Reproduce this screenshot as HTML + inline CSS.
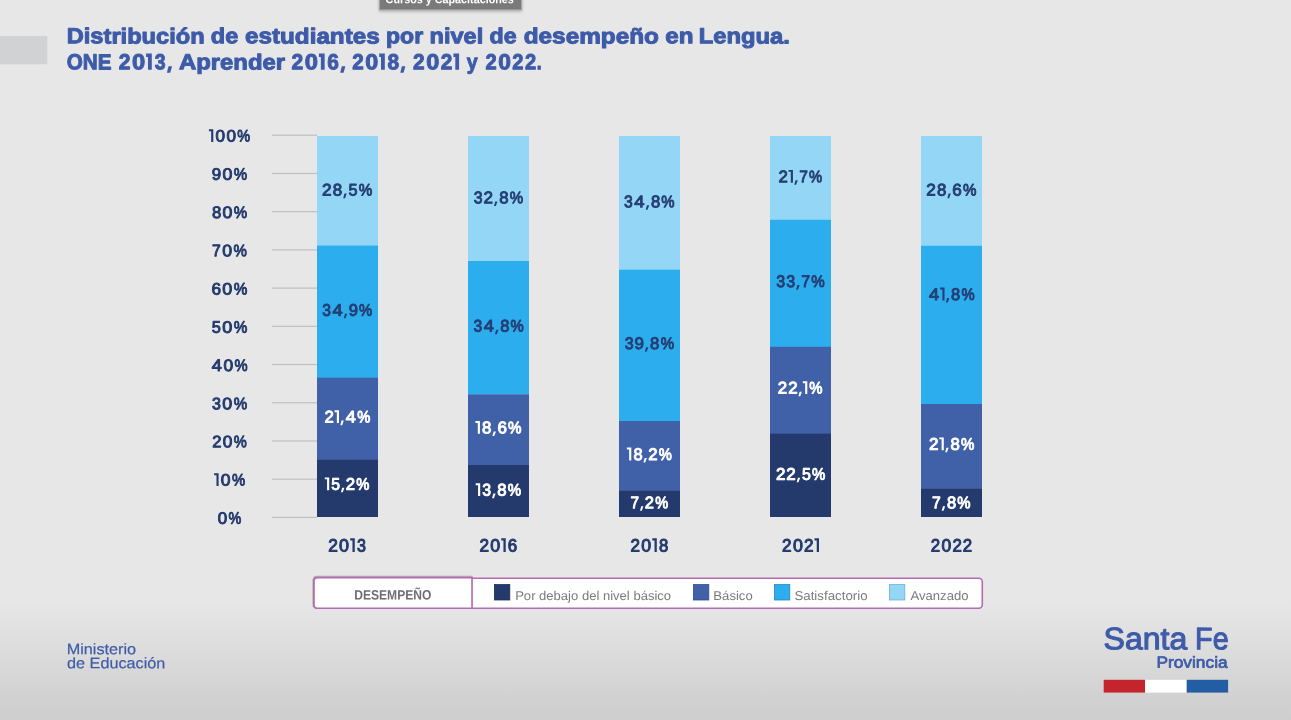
<!DOCTYPE html>
<html><head><meta charset="utf-8"><title>Distribución de estudiantes por nivel de desempeño en Lengua</title>
<style>
html,body{margin:0;padding:0;}
body{width:1291px;height:720px;overflow:hidden;position:relative;font-family:"Liberation Sans",sans-serif;
background:linear-gradient(to bottom,#e7e7e7 0,#e7e7e7 600px,#e3e3e3 620px,#d9d9d9 665px,#d2d2d2 695px,#cecece 720px);}
svg{position:absolute;left:0;top:0;display:block;will-change:transform;}
text{font-family:"Liberation Sans",sans-serif;white-space:pre;text-rendering:geometricPrecision;}
</style></head><body>
<svg width="1291" height="720" viewBox="0 0 1291 720">
<defs>
<filter id="ds" x="-5%" y="-20%" width="110%" height="140%"><feDropShadow dx="-0.4" dy="-0.6" stdDeviation="0.7" flood-color="#000" flood-opacity="0.45"/></filter>
<filter id="ts" x="-5%" y="-20%" width="110%" height="160%"><feDropShadow dx="0" dy="1" stdDeviation="1.5" flood-color="#000" flood-opacity="0.3"/></filter>
</defs>
<rect x="272" y="516.85" width="45" height="1.15" fill="#bebebe"/>
<rect x="272" y="478.63" width="45" height="1.15" fill="#bebebe"/>
<rect x="272" y="440.41" width="45" height="1.15" fill="#bebebe"/>
<rect x="272" y="402.19" width="45" height="1.15" fill="#bebebe"/>
<rect x="272" y="363.97" width="45" height="1.15" fill="#bebebe"/>
<rect x="272" y="325.75" width="45" height="1.15" fill="#bebebe"/>
<rect x="272" y="287.53" width="45" height="1.15" fill="#bebebe"/>
<rect x="272" y="249.31" width="45" height="1.15" fill="#bebebe"/>
<rect x="272" y="211.09" width="45" height="1.15" fill="#bebebe"/>
<rect x="272" y="172.87" width="45" height="1.15" fill="#bebebe"/>
<rect x="272" y="134.65" width="45" height="1.15" fill="#bebebe"/>
<rect x="317" y="136.00" width="61" height="109.80" fill="#93d6f6"/>
<rect x="317" y="245.50" width="61" height="132.50" fill="#2badee"/>
<rect x="317" y="377.70" width="61" height="82.40" fill="#4060a8"/>
<rect x="317" y="459.80" width="61" height="57.20" fill="#243a6c"/>
<rect x="468" y="136.00" width="61" height="125.30" fill="#93d6f6"/>
<rect x="468" y="261.00" width="61" height="133.70" fill="#2badee"/>
<rect x="468" y="394.40" width="61" height="70.90" fill="#4060a8"/>
<rect x="468" y="465.00" width="61" height="52.00" fill="#243a6c"/>
<rect x="619" y="136.00" width="61" height="134.00" fill="#93d6f6"/>
<rect x="619" y="269.70" width="61" height="151.60" fill="#2badee"/>
<rect x="619" y="421.00" width="61" height="70.10" fill="#4060a8"/>
<rect x="619" y="490.80" width="61" height="26.20" fill="#243a6c"/>
<rect x="770" y="136.00" width="61" height="84.10" fill="#93d6f6"/>
<rect x="770" y="219.80" width="61" height="127.30" fill="#2badee"/>
<rect x="770" y="346.80" width="61" height="87.20" fill="#4060a8"/>
<rect x="770" y="433.70" width="61" height="83.30" fill="#243a6c"/>
<rect x="921" y="136.00" width="61" height="110.10" fill="#93d6f6"/>
<rect x="921" y="245.80" width="61" height="158.50" fill="#2badee"/>
<rect x="921" y="404.00" width="61" height="84.90" fill="#4060a8"/>
<rect x="921" y="488.60" width="61" height="28.40" fill="#243a6c"/>
<rect x="314" y="578.2" width="668.3" height="30" rx="3.5" fill="#fff" stroke="#b76bb1" stroke-width="1.6"/>
<g filter="url(#ds)"><path d="M317.5 577.6 H472 V608.2 H317.5 Q314 608.2 314 604.7 V581.1 Q314 577.6 317.5 577.6 Z" fill="#fff" stroke="#b76bb1" stroke-width="1.6"/></g>
<rect x="494.4" y="584.6" width="15.4" height="15.4" fill="#243a6c" stroke="#1b2d58" stroke-width="0.8"/>
<rect x="693.4" y="584.6" width="15.4" height="15.4" fill="#4060a8" stroke="#324c8c" stroke-width="0.8"/>
<rect x="774.4" y="584.6" width="15.4" height="15.4" fill="#2badee" stroke="#2389c0" stroke-width="0.8"/>
<rect x="889.4" y="584.6" width="15.4" height="15.4" fill="#93d6f6" stroke="#78aecb" stroke-width="0.8"/>
<rect x="1103.7" y="679.8" width="41.4" height="12.8" fill="#c4242c"/>
<rect x="1145.1" y="679.8" width="41.6" height="12.8" fill="#ffffff"/>
<rect x="1186.7" y="679.8" width="41.4" height="12.8" fill="#235da3"/>
<rect x="0" y="36" width="47.3" height="28.3" fill="#d1d2d4"/>
<g filter="url(#ts)"><rect x="379.5" y="-10" width="142" height="19.9" fill="#7a7a7a" stroke="#a6a6a6" stroke-width="1"/></g>
<text transform="translate(66.72 43.35) rotate(0.05)" font-size="21.70" font-weight="bold" fill="#3d5ba9" stroke="#3d5ba9" stroke-width="1.00" stroke-linejoin="round" textLength="137.92" lengthAdjust="spacingAndGlyphs">Distribución</text>
<text transform="translate(210.87 43.35) rotate(0.05)" font-size="21.70" font-weight="bold" fill="#3d5ba9" stroke="#3d5ba9" stroke-width="1.00" stroke-linejoin="round" textLength="27.42" lengthAdjust="spacingAndGlyphs">de</text>
<text transform="translate(245.04 43.35) rotate(0.05)" font-size="21.70" font-weight="bold" fill="#3d5ba9" stroke="#3d5ba9" stroke-width="1.00" stroke-linejoin="round" textLength="134.64" lengthAdjust="spacingAndGlyphs">estudiantes</text>
<text transform="translate(386.06 43.35) rotate(0.05)" font-size="21.70" font-weight="bold" fill="#3d5ba9" stroke="#3d5ba9" stroke-width="1.00" stroke-linejoin="round" textLength="37.06" lengthAdjust="spacingAndGlyphs">por</text>
<text transform="translate(429.53 43.35) rotate(0.05)" font-size="21.70" font-weight="bold" fill="#3d5ba9" stroke="#3d5ba9" stroke-width="1.00" stroke-linejoin="round" textLength="53.66" lengthAdjust="spacingAndGlyphs">nivel</text>
<text transform="translate(489.47 43.35) rotate(0.05)" font-size="21.70" font-weight="bold" fill="#3d5ba9" stroke="#3d5ba9" stroke-width="1.00" stroke-linejoin="round" textLength="27.10" lengthAdjust="spacingAndGlyphs">de</text>
<text transform="translate(523.74 43.35) rotate(0.05)" font-size="21.70" font-weight="bold" fill="#3d5ba9" stroke="#3d5ba9" stroke-width="1.00" stroke-linejoin="round" textLength="135.16" lengthAdjust="spacingAndGlyphs">desempeño</text>
<text transform="translate(665.34 43.35) rotate(0.05)" font-size="21.70" font-weight="bold" fill="#3d5ba9" stroke="#3d5ba9" stroke-width="1.00" stroke-linejoin="round" textLength="28.22" lengthAdjust="spacingAndGlyphs">en</text>
<text transform="translate(698.81 43.35) rotate(0.05)" font-size="21.70" font-weight="bold" fill="#3d5ba9" stroke="#3d5ba9" stroke-width="1.00" stroke-linejoin="round" textLength="91.09" lengthAdjust="spacingAndGlyphs">Lengua.</text>
<text transform="translate(66.76 69.35) rotate(0.05)" font-size="21.70" font-weight="bold" fill="#3d5ba9" stroke="#3d5ba9" stroke-width="1.00" stroke-linejoin="round" textLength="44.69" lengthAdjust="spacingAndGlyphs">ONE</text>
<text transform="translate(118.63 69.35) rotate(0.05) scale(0.9673 1)" font-size="21.70" font-weight="bold" fill="#3d5ba9" stroke="#3d5ba9" stroke-width="1.00" stroke-linejoin="round">2</text><text transform="translate(131.98 69.35) rotate(0.05) scale(1.0954 1)" font-size="21.70" font-weight="bold" fill="#3d5ba9" stroke="#3d5ba9" stroke-width="1.00" stroke-linejoin="round">0</text><path d="M146.06 53.49 H151.79 V69.85 H147.99 V56.99 H146.06 Z" fill="#3d5ba9"/><text transform="translate(154.73 69.35) rotate(0.05) scale(0.8986 1)" font-size="21.70" font-weight="bold" fill="#3d5ba9" stroke="#3d5ba9" stroke-width="1.00" stroke-linejoin="round">3</text><path d="M168.49 66.26 L172.10 66.26 L170.24 72.76 L166.94 72.76 Z" fill="#3d5ba9"/>
<text transform="translate(178.93 69.35) rotate(0.05)" font-size="21.70" font-weight="bold" fill="#3d5ba9" stroke="#3d5ba9" stroke-width="1.00" stroke-linejoin="round" textLength="106.11" lengthAdjust="spacingAndGlyphs">Aprender</text>
<text transform="translate(291.43 69.35) rotate(0.05) scale(0.9694 1)" font-size="21.70" font-weight="bold" fill="#3d5ba9" stroke="#3d5ba9" stroke-width="1.00" stroke-linejoin="round">2</text><text transform="translate(304.81 69.35) rotate(0.05) scale(1.0978 1)" font-size="21.70" font-weight="bold" fill="#3d5ba9" stroke="#3d5ba9" stroke-width="1.00" stroke-linejoin="round">0</text><path d="M318.92 53.49 H324.66 V69.85 H320.86 V56.99 H318.92 Z" fill="#3d5ba9"/><text transform="translate(327.30 69.35) rotate(0.05) scale(0.9587 1)" font-size="21.70" font-weight="bold" fill="#3d5ba9" stroke="#3d5ba9" stroke-width="1.00" stroke-linejoin="round">6</text><path d="M341.78 66.26 L345.40 66.26 L343.54 72.76 L340.23 72.76 Z" fill="#3d5ba9"/>
<text transform="translate(352.23 69.35) rotate(0.05) scale(0.9503 1)" font-size="21.70" font-weight="bold" fill="#3d5ba9" stroke="#3d5ba9" stroke-width="1.00" stroke-linejoin="round">2</text><text transform="translate(365.35 69.35) rotate(0.05) scale(1.0761 1)" font-size="21.70" font-weight="bold" fill="#3d5ba9" stroke="#3d5ba9" stroke-width="1.00" stroke-linejoin="round">0</text><path d="M379.18 53.49 H384.81 V69.85 H381.01 V56.99 H379.18 Z" fill="#3d5ba9"/><text transform="translate(387.39 69.35) rotate(0.05) scale(0.9608 1)" font-size="21.70" font-weight="bold" fill="#3d5ba9" stroke="#3d5ba9" stroke-width="1.00" stroke-linejoin="round">8</text><path d="M401.84 66.26 L405.40 66.26 L403.57 72.76 L400.32 72.76 Z" fill="#3d5ba9"/>
<text transform="translate(413.03 69.35) rotate(0.05) scale(0.9577 1)" font-size="21.70" font-weight="bold" fill="#3d5ba9" stroke="#3d5ba9" stroke-width="1.00" stroke-linejoin="round">2</text><text transform="translate(426.25 69.35) rotate(0.05) scale(1.0845 1)" font-size="21.70" font-weight="bold" fill="#3d5ba9" stroke="#3d5ba9" stroke-width="1.00" stroke-linejoin="round">0</text><text transform="translate(440.65 69.35) rotate(0.05) scale(0.9577 1)" font-size="21.70" font-weight="bold" fill="#3d5ba9" stroke="#3d5ba9" stroke-width="1.00" stroke-linejoin="round">2</text><path d="M453.43 53.49 H459.10 V69.85 H455.30 V56.99 H453.43 Z" fill="#3d5ba9"/>
<text transform="translate(466.70 69.35) rotate(0.05)" font-size="21.70" font-weight="bold" fill="#3d5ba9" stroke="#3d5ba9" stroke-width="1.00" stroke-linejoin="round" textLength="10.88" lengthAdjust="spacingAndGlyphs">y</text>
<text transform="translate(485.53 69.35) rotate(0.05) scale(0.9268 1)" font-size="21.70" font-weight="bold" fill="#3d5ba9" stroke="#3d5ba9" stroke-width="1.00" stroke-linejoin="round">2</text><text transform="translate(498.33 69.35) rotate(0.05) scale(1.0495 1)" font-size="21.70" font-weight="bold" fill="#3d5ba9" stroke="#3d5ba9" stroke-width="1.00" stroke-linejoin="round">0</text><text transform="translate(512.26 69.35) rotate(0.05) scale(0.9268 1)" font-size="21.70" font-weight="bold" fill="#3d5ba9" stroke="#3d5ba9" stroke-width="1.00" stroke-linejoin="round">2</text><text transform="translate(525.07 69.35) rotate(0.05) scale(0.9268 1)" font-size="21.70" font-weight="bold" fill="#3d5ba9" stroke="#3d5ba9" stroke-width="1.00" stroke-linejoin="round">2</text><text transform="translate(536.87 69.35) rotate(0.05) scale(0.8060 1)" font-size="21.70" font-weight="bold" fill="#3d5ba9" stroke="#3d5ba9" stroke-width="1.00" stroke-linejoin="round">.</text>
<text transform="translate(217.81 523.80) rotate(0.05) scale(1.0224 1)" font-size="16.60" fill="#243b6e" stroke="#243b6e" stroke-width="0.95" stroke-linejoin="round">0</text><text transform="translate(228.61 523.80) rotate(0.05) scale(0.8645 1)" font-size="16.60" fill="#243b6e" stroke="#243b6e" stroke-width="0.95" stroke-linejoin="round">%</text>
<path d="M214.15 473.33 H218.59 V486.05 H216.47 V475.29 H214.15 Z" fill="#243b6e"/><text transform="translate(220.72 485.58) rotate(0.05) scale(1.0566 1)" font-size="16.60" fill="#243b6e" stroke="#243b6e" stroke-width="0.95" stroke-linejoin="round">0</text><text transform="translate(231.88 485.58) rotate(0.05) scale(0.8934 1)" font-size="16.60" fill="#243b6e" stroke="#243b6e" stroke-width="0.95" stroke-linejoin="round">%</text>
<text transform="translate(212.20 447.36) rotate(0.05) scale(1.0043 1)" font-size="16.60" fill="#243b6e" stroke="#243b6e" stroke-width="0.95" stroke-linejoin="round">2</text><text transform="translate(222.69 447.36) rotate(0.05) scale(1.0428 1)" font-size="16.60" fill="#243b6e" stroke="#243b6e" stroke-width="0.95" stroke-linejoin="round">0</text><text transform="translate(233.70 447.36) rotate(0.05) scale(0.8818 1)" font-size="16.60" fill="#243b6e" stroke="#243b6e" stroke-width="0.95" stroke-linejoin="round">%</text>
<text transform="translate(212.06 409.14) rotate(0.05) scale(0.9648 1)" font-size="16.60" fill="#243b6e" stroke="#243b6e" stroke-width="0.95" stroke-linejoin="round">3</text><text transform="translate(222.24 409.14) rotate(0.05) scale(1.0795 1)" font-size="16.60" fill="#243b6e" stroke="#243b6e" stroke-width="0.95" stroke-linejoin="round">0</text><text transform="translate(233.65 409.14) rotate(0.05) scale(0.9128 1)" font-size="16.60" fill="#243b6e" stroke="#243b6e" stroke-width="0.95" stroke-linejoin="round">%</text>
<text transform="translate(211.84 370.92) rotate(0.05) scale(1.0934 1)" font-size="16.60" fill="#243b6e" stroke="#243b6e" stroke-width="0.95" stroke-linejoin="round">4</text><text transform="translate(223.42 370.92) rotate(0.05) scale(1.0499 1)" font-size="16.60" fill="#243b6e" stroke="#243b6e" stroke-width="0.95" stroke-linejoin="round">0</text><text transform="translate(234.51 370.92) rotate(0.05) scale(0.8877 1)" font-size="16.60" fill="#243b6e" stroke="#243b6e" stroke-width="0.95" stroke-linejoin="round">%</text>
<text transform="translate(211.86 332.70) rotate(0.05) scale(0.9844 1)" font-size="16.60" fill="#243b6e" stroke="#243b6e" stroke-width="0.95" stroke-linejoin="round">5</text><text transform="translate(222.23 332.70) rotate(0.05) scale(1.0887 1)" font-size="16.60" fill="#243b6e" stroke="#243b6e" stroke-width="0.95" stroke-linejoin="round">0</text><text transform="translate(233.73 332.70) rotate(0.05) scale(0.9206 1)" font-size="16.60" fill="#243b6e" stroke="#243b6e" stroke-width="0.95" stroke-linejoin="round">%</text>
<text transform="translate(211.49 294.48) rotate(0.05) scale(1.0368 1)" font-size="16.60" fill="#243b6e" stroke="#243b6e" stroke-width="0.95" stroke-linejoin="round">6</text><text transform="translate(222.33 294.48) rotate(0.05) scale(1.0886 1)" font-size="16.60" fill="#243b6e" stroke="#243b6e" stroke-width="0.95" stroke-linejoin="round">0</text><text transform="translate(233.83 294.48) rotate(0.05) scale(0.9205 1)" font-size="16.60" fill="#243b6e" stroke="#243b6e" stroke-width="0.95" stroke-linejoin="round">%</text>
<text transform="translate(212.11 256.26) rotate(0.05) scale(0.9506 1)" font-size="16.60" fill="#243b6e" stroke="#243b6e" stroke-width="0.95" stroke-linejoin="round">7</text><text transform="translate(222.15 256.26) rotate(0.05) scale(1.0703 1)" font-size="16.60" fill="#243b6e" stroke="#243b6e" stroke-width="0.95" stroke-linejoin="round">0</text><text transform="translate(233.46 256.26) rotate(0.05) scale(0.9050 1)" font-size="16.60" fill="#243b6e" stroke="#243b6e" stroke-width="0.95" stroke-linejoin="round">%</text>
<text transform="translate(211.96 218.04) rotate(0.05) scale(1.0122 1)" font-size="16.60" fill="#243b6e" stroke="#243b6e" stroke-width="0.95" stroke-linejoin="round">8</text><text transform="translate(222.55 218.04) rotate(0.05) scale(1.0703 1)" font-size="16.60" fill="#243b6e" stroke="#243b6e" stroke-width="0.95" stroke-linejoin="round">0</text><text transform="translate(233.86 218.04) rotate(0.05) scale(0.9050 1)" font-size="16.60" fill="#243b6e" stroke="#243b6e" stroke-width="0.95" stroke-linejoin="round">%</text>
<text transform="translate(211.79 179.82) rotate(0.05) scale(1.0193 1)" font-size="16.60" fill="#243b6e" stroke="#243b6e" stroke-width="0.95" stroke-linejoin="round">9</text><text transform="translate(222.45 179.82) rotate(0.05) scale(1.0703 1)" font-size="16.60" fill="#243b6e" stroke="#243b6e" stroke-width="0.95" stroke-linejoin="round">0</text><text transform="translate(233.76 179.82) rotate(0.05) scale(0.9050 1)" font-size="16.60" fill="#243b6e" stroke="#243b6e" stroke-width="0.95" stroke-linejoin="round">%</text>
<path d="M208.95 129.35 H213.30 V142.07 H211.18 V131.31 H208.95 Z" fill="#243b6e"/><text transform="translate(215.39 141.60) rotate(0.05) scale(1.0352 1)" font-size="16.60" fill="#243b6e" stroke="#243b6e" stroke-width="0.95" stroke-linejoin="round">0</text><text transform="translate(226.41 141.60) rotate(0.05) scale(1.0352 1)" font-size="16.60" fill="#243b6e" stroke="#243b6e" stroke-width="0.95" stroke-linejoin="round">0</text><text transform="translate(237.35 141.60) rotate(0.05) scale(0.8753 1)" font-size="16.60" fill="#243b6e" stroke="#243b6e" stroke-width="0.95" stroke-linejoin="round">%</text>
<text transform="translate(321.98 195.50) rotate(0.05) scale(1.0357 1)" font-size="16.70" fill="#253e73" stroke="#253e73" stroke-width="0.95" stroke-linejoin="round">2</text><text transform="translate(332.86 195.50) rotate(0.05) scale(1.0169 1)" font-size="16.70" fill="#253e73" stroke="#253e73" stroke-width="0.95" stroke-linejoin="round">8</text><path d="M344.48 193.60 L346.74 193.60 L345.05 198.17 L343.21 198.17 Z" fill="#253e73"/><text transform="translate(348.52 195.50) rotate(0.05) scale(0.9722 1)" font-size="16.70" fill="#253e73" stroke="#253e73" stroke-width="0.95" stroke-linejoin="round">5</text><text transform="translate(358.72 195.50) rotate(0.05) scale(0.9090 1)" font-size="16.70" fill="#253e73" stroke="#253e73" stroke-width="0.95" stroke-linejoin="round">%</text>
<text transform="translate(322.26 315.70) rotate(0.05) scale(0.9364 1)" font-size="16.70" fill="#253e73" stroke="#253e73" stroke-width="0.95" stroke-linejoin="round">3</text><text transform="translate(332.47 315.70) rotate(0.05) scale(1.0912 1)" font-size="16.70" fill="#253e73" stroke="#253e73" stroke-width="0.95" stroke-linejoin="round">4</text><path d="M345.00 313.80 L347.20 313.80 L345.55 318.37 L343.76 318.37 Z" fill="#253e73"/><text transform="translate(348.67 315.70) rotate(0.05) scale(0.9979 1)" font-size="16.70" fill="#253e73" stroke="#253e73" stroke-width="0.95" stroke-linejoin="round">9</text><text transform="translate(359.07 315.70) rotate(0.05) scale(0.8857 1)" font-size="16.70" fill="#253e73" stroke="#253e73" stroke-width="0.95" stroke-linejoin="round">%</text>
<text transform="translate(324.49 422.50) rotate(0.05) scale(1.0032 1)" font-size="16.70" fill="#ffffff" stroke="#ffffff" stroke-width="0.95" stroke-linejoin="round">2</text><path d="M334.58 410.18 H338.99 V422.98 H336.85 V412.15 H334.58 Z" fill="#ffffff"/><path d="M341.59 420.60 L343.78 420.60 L342.14 425.17 L340.36 425.17 Z" fill="#ffffff"/><text transform="translate(345.78 422.50) rotate(0.05) scale(1.0848 1)" font-size="16.70" fill="#ffffff" stroke="#ffffff" stroke-width="0.95" stroke-linejoin="round">4</text><text transform="translate(357.24 422.50) rotate(0.05) scale(0.8805 1)" font-size="16.70" fill="#ffffff" stroke="#ffffff" stroke-width="0.95" stroke-linejoin="round">%</text>
<path d="M324.80 477.38 H329.21 V490.18 H327.07 V479.35 H324.80 Z" fill="#ffffff"/><text transform="translate(331.32 489.70) rotate(0.05) scale(0.9435 1)" font-size="16.70" fill="#ffffff" stroke="#ffffff" stroke-width="0.95" stroke-linejoin="round">5</text><path d="M342.21 487.80 L344.40 487.80 L342.76 492.37 L340.97 492.37 Z" fill="#ffffff"/><text transform="translate(345.86 489.70) rotate(0.05) scale(1.0050 1)" font-size="16.70" fill="#ffffff" stroke="#ffffff" stroke-width="0.95" stroke-linejoin="round">2</text><text transform="translate(356.32 489.70) rotate(0.05) scale(0.8821 1)" font-size="16.70" fill="#ffffff" stroke="#ffffff" stroke-width="0.95" stroke-linejoin="round">%</text>
<text transform="translate(473.76 203.30) rotate(0.05) scale(0.9514 1)" font-size="16.70" fill="#253e73" stroke="#253e73" stroke-width="0.95" stroke-linejoin="round">3</text><text transform="translate(483.58 203.30) rotate(0.05) scale(1.0253 1)" font-size="16.70" fill="#253e73" stroke="#253e73" stroke-width="0.95" stroke-linejoin="round">2</text><path d="M495.26 201.40 L497.50 201.40 L495.82 205.97 L494.00 205.97 Z" fill="#253e73"/><text transform="translate(499.25 203.30) rotate(0.05) scale(1.0067 1)" font-size="16.70" fill="#253e73" stroke="#253e73" stroke-width="0.95" stroke-linejoin="round">8</text><text transform="translate(509.76 203.30) rotate(0.05) scale(0.8999 1)" font-size="16.70" fill="#253e73" stroke="#253e73" stroke-width="0.95" stroke-linejoin="round">%</text>
<text transform="translate(473.46 331.60) rotate(0.05) scale(0.9383 1)" font-size="16.70" fill="#253e73" stroke="#253e73" stroke-width="0.95" stroke-linejoin="round">3</text><text transform="translate(483.70 331.60) rotate(0.05) scale(1.0934 1)" font-size="16.70" fill="#253e73" stroke="#253e73" stroke-width="0.95" stroke-linejoin="round">4</text><path d="M496.24 329.70 L498.45 329.70 L496.80 334.27 L495.00 334.27 Z" fill="#253e73"/><text transform="translate(500.18 331.60) rotate(0.05) scale(0.9929 1)" font-size="16.70" fill="#253e73" stroke="#253e73" stroke-width="0.95" stroke-linejoin="round">8</text><text transform="translate(510.54 331.60) rotate(0.05) scale(0.8875 1)" font-size="16.70" fill="#253e73" stroke="#253e73" stroke-width="0.95" stroke-linejoin="round">%</text>
<path d="M475.40 420.98 H479.93 V433.78 H477.79 V422.95 H475.40 Z" fill="#ffffff"/><text transform="translate(482.10 433.30) rotate(0.05) scale(1.0133 1)" font-size="16.70" fill="#ffffff" stroke="#ffffff" stroke-width="0.95" stroke-linejoin="round">8</text><path d="M493.68 431.40 L495.93 431.40 L494.24 435.97 L492.41 435.97 Z" fill="#ffffff"/><text transform="translate(497.43 433.30) rotate(0.05) scale(1.0205 1)" font-size="16.70" fill="#ffffff" stroke="#ffffff" stroke-width="0.95" stroke-linejoin="round">6</text><text transform="translate(508.07 433.30) rotate(0.05) scale(0.9058 1)" font-size="16.70" fill="#ffffff" stroke="#ffffff" stroke-width="0.95" stroke-linejoin="round">%</text>
<path d="M475.70 483.18 H480.20 V495.98 H478.06 V485.15 H475.70 Z" fill="#ffffff"/><text transform="translate(482.36 495.50) rotate(0.05) scale(0.9514 1)" font-size="16.70" fill="#ffffff" stroke="#ffffff" stroke-width="0.95" stroke-linejoin="round">3</text><path d="M493.36 493.60 L495.60 493.60 L493.92 498.17 L492.10 498.17 Z" fill="#ffffff"/><text transform="translate(497.35 495.50) rotate(0.05) scale(1.0067 1)" font-size="16.70" fill="#ffffff" stroke="#ffffff" stroke-width="0.95" stroke-linejoin="round">8</text><text transform="translate(507.86 495.50) rotate(0.05) scale(0.8999 1)" font-size="16.70" fill="#ffffff" stroke="#ffffff" stroke-width="0.95" stroke-linejoin="round">%</text>
<text transform="translate(624.06 207.20) rotate(0.05) scale(0.9439 1)" font-size="16.70" fill="#253e73" stroke="#253e73" stroke-width="0.95" stroke-linejoin="round">3</text><text transform="translate(634.36 207.20) rotate(0.05) scale(1.1000 1)" font-size="16.70" fill="#253e73" stroke="#253e73" stroke-width="0.95" stroke-linejoin="round">4</text><path d="M646.98 205.30 L649.20 205.30 L647.53 209.87 L645.73 209.87 Z" fill="#253e73"/><text transform="translate(650.94 207.20) rotate(0.05) scale(0.9988 1)" font-size="16.70" fill="#253e73" stroke="#253e73" stroke-width="0.95" stroke-linejoin="round">8</text><text transform="translate(661.36 207.20) rotate(0.05) scale(0.8928 1)" font-size="16.70" fill="#253e73" stroke="#253e73" stroke-width="0.95" stroke-linejoin="round">%</text>
<text transform="translate(624.66 349.10) rotate(0.05) scale(0.9534 1)" font-size="16.70" fill="#253e73" stroke="#253e73" stroke-width="0.95" stroke-linejoin="round">3</text><text transform="translate(634.51 349.10) rotate(0.05) scale(1.0159 1)" font-size="16.70" fill="#253e73" stroke="#253e73" stroke-width="0.95" stroke-linejoin="round">9</text><path d="M646.10 347.20 L648.35 347.20 L646.66 351.77 L644.84 351.77 Z" fill="#253e73"/><text transform="translate(650.10 349.10) rotate(0.05) scale(1.0088 1)" font-size="16.70" fill="#253e73" stroke="#253e73" stroke-width="0.95" stroke-linejoin="round">8</text><text transform="translate(660.63 349.10) rotate(0.05) scale(0.9017 1)" font-size="16.70" fill="#253e73" stroke="#253e73" stroke-width="0.95" stroke-linejoin="round">%</text>
<path d="M626.90 447.58 H631.30 V460.38 H629.16 V449.55 H626.90 Z" fill="#ffffff"/><text transform="translate(633.41 459.90) rotate(0.05) scale(0.9848 1)" font-size="16.70" fill="#ffffff" stroke="#ffffff" stroke-width="0.95" stroke-linejoin="round">8</text><path d="M644.66 458.00 L646.86 458.00 L645.21 462.57 L643.43 462.57 Z" fill="#ffffff"/><text transform="translate(648.31 459.90) rotate(0.05) scale(1.0029 1)" font-size="16.70" fill="#ffffff" stroke="#ffffff" stroke-width="0.95" stroke-linejoin="round">2</text><text transform="translate(658.75 459.90) rotate(0.05) scale(0.8803 1)" font-size="16.70" fill="#ffffff" stroke="#ffffff" stroke-width="0.95" stroke-linejoin="round">%</text>
<text transform="translate(630.62 508.20) rotate(0.05) scale(0.9160 1)" font-size="16.70" fill="#ffffff" stroke="#ffffff" stroke-width="0.95" stroke-linejoin="round">7</text><path d="M641.23 506.30 L643.40 506.30 L641.77 510.87 L640.01 510.87 Z" fill="#ffffff"/><text transform="translate(644.83 508.20) rotate(0.05) scale(0.9932 1)" font-size="16.70" fill="#ffffff" stroke="#ffffff" stroke-width="0.95" stroke-linejoin="round">2</text><text transform="translate(655.17 508.20) rotate(0.05) scale(0.8718 1)" font-size="16.70" fill="#ffffff" stroke="#ffffff" stroke-width="0.95" stroke-linejoin="round">%</text>
<text transform="translate(778.39 182.20) rotate(0.05) scale(1.0067 1)" font-size="16.70" fill="#253e73" stroke="#253e73" stroke-width="0.95" stroke-linejoin="round">2</text><path d="M788.52 169.88 H792.94 V182.67 H790.80 V171.85 H788.52 Z" fill="#253e73"/><path d="M795.55 180.30 L797.75 180.30 L796.10 184.87 L794.31 184.87 Z" fill="#253e73"/><text transform="translate(799.23 182.20) rotate(0.05) scale(0.9284 1)" font-size="16.70" fill="#253e73" stroke="#253e73" stroke-width="0.95" stroke-linejoin="round">7</text><text transform="translate(809.00 182.20) rotate(0.05) scale(0.8836 1)" font-size="16.70" fill="#253e73" stroke="#253e73" stroke-width="0.95" stroke-linejoin="round">%</text>
<text transform="translate(776.16 287.00) rotate(0.05) scale(0.9574 1)" font-size="16.70" fill="#253e73" stroke="#253e73" stroke-width="0.95" stroke-linejoin="round">3</text><text transform="translate(786.32 287.00) rotate(0.05) scale(0.9574 1)" font-size="16.70" fill="#253e73" stroke="#253e73" stroke-width="0.95" stroke-linejoin="round">3</text><path d="M797.39 285.10 L799.65 285.10 L797.95 289.67 L796.12 289.67 Z" fill="#253e73"/><text transform="translate(801.16 287.00) rotate(0.05) scale(0.9514 1)" font-size="16.70" fill="#253e73" stroke="#253e73" stroke-width="0.95" stroke-linejoin="round">7</text><text transform="translate(811.17 287.00) rotate(0.05) scale(0.9055 1)" font-size="16.70" fill="#253e73" stroke="#253e73" stroke-width="0.95" stroke-linejoin="round">%</text>
<text transform="translate(777.79 393.60) rotate(0.05) scale(1.0116 1)" font-size="16.70" fill="#ffffff" stroke="#ffffff" stroke-width="0.95" stroke-linejoin="round">2</text><text transform="translate(788.15 393.60) rotate(0.05) scale(1.0116 1)" font-size="16.70" fill="#ffffff" stroke="#ffffff" stroke-width="0.95" stroke-linejoin="round">2</text><path d="M799.67 391.70 L801.88 391.70 L800.22 396.27 L798.42 396.27 Z" fill="#ffffff"/><path d="M802.86 381.28 H807.30 V394.08 H805.17 V383.25 H802.86 Z" fill="#ffffff"/><text transform="translate(809.24 393.60) rotate(0.05) scale(0.8879 1)" font-size="16.70" fill="#ffffff" stroke="#ffffff" stroke-width="0.95" stroke-linejoin="round">%</text>
<text transform="translate(775.89 479.70) rotate(0.05) scale(1.0190 1)" font-size="16.70" fill="#ffffff" stroke="#ffffff" stroke-width="0.95" stroke-linejoin="round">2</text><text transform="translate(786.32 479.70) rotate(0.05) scale(1.0190 1)" font-size="16.70" fill="#ffffff" stroke="#ffffff" stroke-width="0.95" stroke-linejoin="round">2</text><path d="M797.93 477.80 L800.15 477.80 L798.48 482.37 L796.67 482.37 Z" fill="#ffffff"/><text transform="translate(801.90 479.70) rotate(0.05) scale(0.9566 1)" font-size="16.70" fill="#ffffff" stroke="#ffffff" stroke-width="0.95" stroke-linejoin="round">5</text><text transform="translate(811.94 479.70) rotate(0.05) scale(0.8944 1)" font-size="16.70" fill="#ffffff" stroke="#ffffff" stroke-width="0.95" stroke-linejoin="round">%</text>
<text transform="translate(926.18 195.50) rotate(0.05) scale(1.0315 1)" font-size="16.70" fill="#253e73" stroke="#253e73" stroke-width="0.95" stroke-linejoin="round">2</text><text transform="translate(937.02 195.50) rotate(0.05) scale(1.0128 1)" font-size="16.70" fill="#253e73" stroke="#253e73" stroke-width="0.95" stroke-linejoin="round">8</text><path d="M948.59 193.60 L950.85 193.60 L949.16 198.17 L947.33 198.17 Z" fill="#253e73"/><text transform="translate(952.34 195.50) rotate(0.05) scale(1.0200 1)" font-size="16.70" fill="#253e73" stroke="#253e73" stroke-width="0.95" stroke-linejoin="round">6</text><text transform="translate(962.98 195.50) rotate(0.05) scale(0.9053 1)" font-size="16.70" fill="#253e73" stroke="#253e73" stroke-width="0.95" stroke-linejoin="round">%</text>
<text transform="translate(928.93 299.90) rotate(0.05) scale(1.0896 1)" font-size="16.70" fill="#253e73" stroke="#253e73" stroke-width="0.95" stroke-linejoin="round">4</text><path d="M940.10 287.58 H944.52 V300.38 H942.39 V289.55 H940.10 Z" fill="#253e73"/><path d="M947.14 298.00 L949.34 298.00 L947.69 302.57 L945.90 302.57 Z" fill="#253e73"/><text transform="translate(951.06 299.90) rotate(0.05) scale(0.9895 1)" font-size="16.70" fill="#253e73" stroke="#253e73" stroke-width="0.95" stroke-linejoin="round">8</text><text transform="translate(961.39 299.90) rotate(0.05) scale(0.8844 1)" font-size="16.70" fill="#253e73" stroke="#253e73" stroke-width="0.95" stroke-linejoin="round">%</text>
<text transform="translate(928.99 449.70) rotate(0.05) scale(1.0230 1)" font-size="16.70" fill="#ffffff" stroke="#ffffff" stroke-width="0.95" stroke-linejoin="round">2</text><path d="M939.28 437.38 H943.77 V450.18 H941.63 V439.35 H939.28 Z" fill="#ffffff"/><path d="M946.42 447.80 L948.66 447.80 L946.98 452.37 L945.16 452.37 Z" fill="#ffffff"/><text transform="translate(950.41 449.70) rotate(0.05) scale(1.0045 1)" font-size="16.70" fill="#ffffff" stroke="#ffffff" stroke-width="0.95" stroke-linejoin="round">8</text><text transform="translate(960.89 449.70) rotate(0.05) scale(0.8979 1)" font-size="16.70" fill="#ffffff" stroke="#ffffff" stroke-width="0.95" stroke-linejoin="round">%</text>
<text transform="translate(932.11 508.20) rotate(0.05) scale(0.9357 1)" font-size="16.70" fill="#ffffff" stroke="#ffffff" stroke-width="0.95" stroke-linejoin="round">7</text><path d="M942.95 506.30 L945.17 506.30 L943.50 510.87 L941.70 510.87 Z" fill="#ffffff"/><text transform="translate(946.90 508.20) rotate(0.05) scale(0.9963 1)" font-size="16.70" fill="#ffffff" stroke="#ffffff" stroke-width="0.95" stroke-linejoin="round">8</text><text transform="translate(957.30 508.20) rotate(0.05) scale(0.8905 1)" font-size="16.70" fill="#ffffff" stroke="#ffffff" stroke-width="0.95" stroke-linejoin="round">%</text>
<text transform="translate(328.20 551.45) rotate(0.05) scale(0.9711 1)" font-size="17.80" fill="#243b6e" stroke="#243b6e" stroke-width="1.05" stroke-linejoin="round">2</text><text transform="translate(339.11 551.45) rotate(0.05) scale(1.0085 1)" font-size="17.80" fill="#243b6e" stroke="#243b6e" stroke-width="1.05" stroke-linejoin="round">0</text><path d="M350.19 538.31 H354.75 V551.98 H352.47 V540.41 H350.19 Z" fill="#243b6e"/><text transform="translate(356.95 551.45) rotate(0.05) scale(0.9013 1)" font-size="17.80" fill="#243b6e" stroke="#243b6e" stroke-width="1.05" stroke-linejoin="round">3</text>
<text transform="translate(479.40 551.45) rotate(0.05) scale(0.9633 1)" font-size="17.80" fill="#243b6e" stroke="#243b6e" stroke-width="1.05" stroke-linejoin="round">2</text><text transform="translate(490.23 551.45) rotate(0.05) scale(1.0004 1)" font-size="17.80" fill="#243b6e" stroke="#243b6e" stroke-width="1.05" stroke-linejoin="round">0</text><path d="M501.22 538.31 H505.74 V551.98 H503.46 V540.41 H501.22 Z" fill="#243b6e"/><text transform="translate(507.66 551.45) rotate(0.05) scale(0.9526 1)" font-size="17.80" fill="#243b6e" stroke="#243b6e" stroke-width="1.05" stroke-linejoin="round">6</text>
<text transform="translate(630.60 551.45) rotate(0.05) scale(0.9581 1)" font-size="17.80" fill="#243b6e" stroke="#243b6e" stroke-width="1.05" stroke-linejoin="round">2</text><text transform="translate(641.37 551.45) rotate(0.05) scale(0.9950 1)" font-size="17.80" fill="#243b6e" stroke="#243b6e" stroke-width="1.05" stroke-linejoin="round">0</text><path d="M652.30 538.31 H656.80 V551.98 H654.52 V540.41 H652.30 Z" fill="#243b6e"/><text transform="translate(658.97 551.45) rotate(0.05) scale(0.9409 1)" font-size="17.80" fill="#243b6e" stroke="#243b6e" stroke-width="1.05" stroke-linejoin="round">8</text>
<text transform="translate(782.10 551.45) rotate(0.05) scale(0.9633 1)" font-size="17.80" fill="#243b6e" stroke="#243b6e" stroke-width="1.05" stroke-linejoin="round">2</text><text transform="translate(792.93 551.45) rotate(0.05) scale(1.0004 1)" font-size="17.80" fill="#243b6e" stroke="#243b6e" stroke-width="1.05" stroke-linejoin="round">0</text><text transform="translate(804.12 551.45) rotate(0.05) scale(0.9633 1)" font-size="17.80" fill="#243b6e" stroke="#243b6e" stroke-width="1.05" stroke-linejoin="round">2</text><path d="M814.48 538.31 H819.00 V551.98 H816.72 V540.41 H814.48 Z" fill="#243b6e"/>
<text transform="translate(930.81 551.45) rotate(0.05) scale(0.9465 1)" font-size="17.80" fill="#243b6e" stroke="#243b6e" stroke-width="1.05" stroke-linejoin="round">2</text><text transform="translate(941.44 551.45) rotate(0.05) scale(0.9830 1)" font-size="17.80" fill="#243b6e" stroke="#243b6e" stroke-width="1.05" stroke-linejoin="round">0</text><text transform="translate(952.44 551.45) rotate(0.05) scale(0.9465 1)" font-size="17.80" fill="#243b6e" stroke="#243b6e" stroke-width="1.05" stroke-linejoin="round">2</text><text transform="translate(962.82 551.45) rotate(0.05) scale(0.9465 1)" font-size="17.80" fill="#243b6e" stroke="#243b6e" stroke-width="1.05" stroke-linejoin="round">2</text>
<text transform="translate(354.25 599.40) rotate(0.05)" font-size="13.60" font-weight="bold" fill="#6d6e71" textLength="77.09" lengthAdjust="spacingAndGlyphs">DESEMPEÑO</text>
<text transform="translate(515.17 599.90) rotate(0.05)" font-size="12.70" fill="#797a7d" textLength="155.95" lengthAdjust="spacingAndGlyphs">Por debajo del nivel básico</text>
<text transform="translate(713.37 599.90) rotate(0.05)" font-size="12.70" fill="#797a7d" textLength="39.36" lengthAdjust="spacingAndGlyphs">Básico</text>
<text transform="translate(794.43 599.90) rotate(0.05)" font-size="12.80" fill="#797a7d" textLength="73.11" lengthAdjust="spacingAndGlyphs">Satisfactorio</text>
<text transform="translate(910.50 599.90) rotate(0.05)" font-size="12.80" fill="#797a7d" textLength="58.03" lengthAdjust="spacingAndGlyphs">Avanzado</text>
<text transform="translate(66.63 654.20) rotate(0.05)" font-size="15.20" fill="#3d5ba9" stroke="#3d5ba9" stroke-width="0.20" stroke-linejoin="round" textLength="69.53" lengthAdjust="spacingAndGlyphs">Ministerio</text>
<text transform="translate(66.99 668.30) rotate(0.05)" font-size="15.20" fill="#3d5ba9" stroke="#3d5ba9" stroke-width="0.20" stroke-linejoin="round" textLength="98.42" lengthAdjust="spacingAndGlyphs">de Educación</text>
<text transform="translate(1103.55 649.30) rotate(0.05)" font-size="31.00" fill="#3d5ba9" stroke="#3d5ba9" stroke-width="1.10" stroke-linejoin="round" textLength="83.70" lengthAdjust="spacingAndGlyphs">Santa</text>
<text transform="translate(1195.11 649.30) rotate(0.05)" font-size="31.00" fill="#3d5ba9" stroke="#3d5ba9" stroke-width="1.10" stroke-linejoin="round" textLength="33.51" lengthAdjust="spacingAndGlyphs">Fe</text>
<text transform="translate(1156.40 667.80) rotate(0.05)" font-size="16.20" fill="#3d5ba9" stroke="#3d5ba9" stroke-width="0.70" stroke-linejoin="round" textLength="71.24" lengthAdjust="spacingAndGlyphs">Provincia</text>
<text transform="translate(385.59 3.20) rotate(0.05)" font-size="11.80" font-weight="bold" fill="#ffffff" textLength="128.23" lengthAdjust="spacingAndGlyphs">Cursos y Capacitaciones</text>
</svg>
</body></html>
